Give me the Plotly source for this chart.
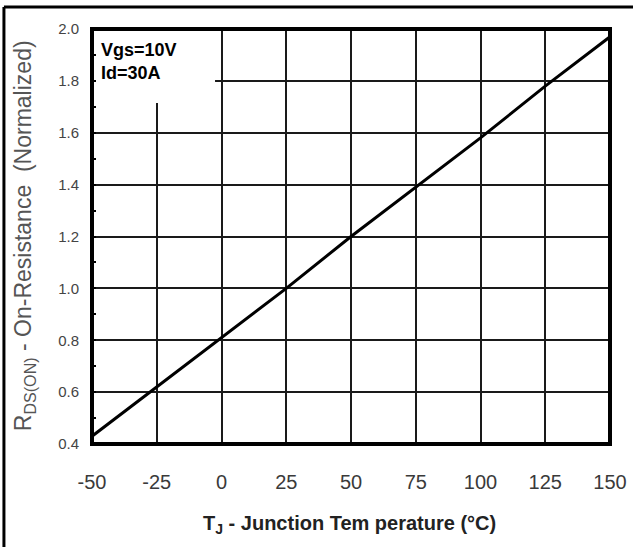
import plotly.graph_objects as go

temps = [-50, -25, 0, 25, 50, 75, 100, 125, 150]
rds_norm = [0.43, 0.62, 0.81, 1.00, 1.20, 1.39, 1.58, 1.78, 1.97]
x_ticks = [-50, -25, 0, 25, 50, 75, 100, 125, 150]
x_labels = ["-50", "-25", "0", "25", "50", "75", "100", "125", "150"]
y_ticks = [0.4, 0.6, 0.8, 1.0, 1.2, 1.4, 1.6, 1.8, 2.0]
y_labels = ["0.4", "0.6", "0.8", "1.0", "1.2", "1.4", "1.6", "1.8", "2.0"]

fig = go.Figure()
fig.add_trace(go.Scatter(x=temps, y=rds_norm, mode="lines",
                         line=dict(color="black", width=3), showlegend=False))

fig.update_layout(
    width=633, height=547,
    margin=dict(l=92, r=23, t=29, b=103),
    paper_bgcolor="white", plot_bgcolor="white",
    font=dict(family="Liberation Sans, Arial, sans-serif"),
    xaxis=dict(range=[-50, 150], tickvals=x_ticks, ticktext=x_labels,
               showgrid=True, automargin=False,
               gridcolor="#1a1a1a", gridwidth=2, zeroline=False,
               showline=False, ticks="", ticklabelstandoff=24,
               tickfont=dict(size=20, color="#3a3a3a")),
    yaxis=dict(range=[0.4, 2.0], tickvals=y_ticks, ticktext=y_labels,
               showgrid=True, automargin=False, gridcolor="#1a1a1a", gridwidth=2,
               zeroline=False, showline=False, ticks="",
               ticklabelstandoff=12,
               tickfont=dict(size=15, color="#444444"),
               minor=dict(ticks="inside", dtick=0.1, ticklen=4,
                          tickwidth=2, tickcolor="black", showgrid=False)),
)

# white box behind the condition label (interrupts gridlines)
fig.add_shape(type="rect", xref="x", yref="y", x0=-50, x1=-2.5, y0=1.715, y1=2.0,
              fillcolor="white", line=dict(width=0), layer="between")
# plot border
fig.add_shape(type="rect", xref="paper", yref="paper", x0=0, x1=1, y0=0, y1=1,
              line=dict(color="black", width=4), layer="above")
# outer frame (left and top visible)
fig.add_shape(type="line", xref="paper", yref="paper", x0=-0.170, x1=-0.170,
              y0=-0.3, y1=1.053, line=dict(color="black", width=3))
fig.add_shape(type="line", xref="paper", yref="paper", x0=-0.170, x1=1.1,
              y0=1.053, y1=1.053, line=dict(color="black", width=3))

fig.add_annotation(xref="paper", yref="paper", x=0.0135, y=0.978,
                   xanchor="left", yanchor="top", align="left", showarrow=False,
                   text="<b>Vgs=10V<br>Id=30A</b>",
                   font=dict(size=18, color="black"))
fig.add_annotation(xref="paper", yref="paper", x=-0.131, y=0.501,
                   xanchor="center", yanchor="middle",
                   textangle=-90, showarrow=False,
                   text="R<sub>DS(ON)</sub> - On-Resistance  (Normalized)",
                   font=dict(size=23, color="#555555"))
fig.add_annotation(xref="paper", yref="paper", x=0.498, y=-0.195,
                   xanchor="center", yanchor="middle", showarrow=False,
                   text="<b>T<sub>J</sub> - Junction Tem perature (°C)</b>",
                   font=dict(size=20, color="#222222"))

fig.write_html("out.html", config={"displayModeBar": False},
               post_script="document.body.style.margin='0';document.body.style.padding='0';")
